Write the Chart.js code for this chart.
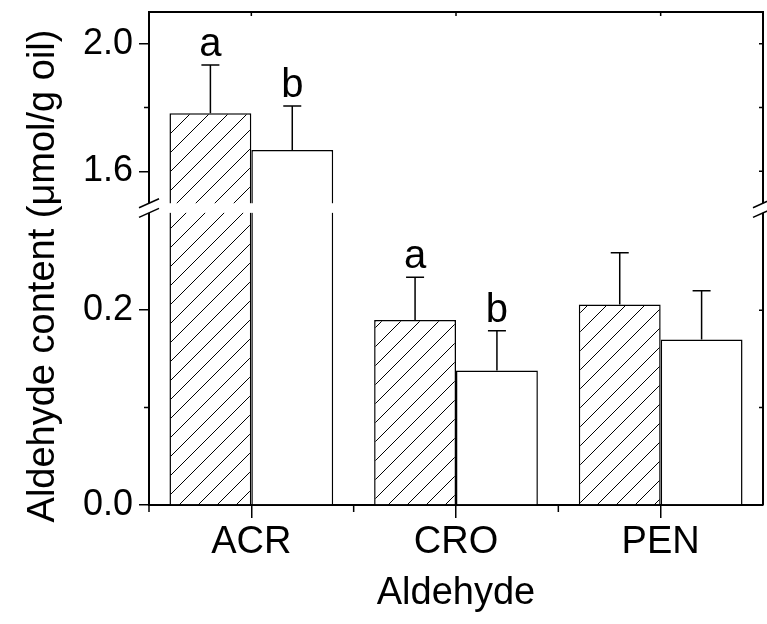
<!DOCTYPE html>
<html>
<head>
<meta charset="utf-8">
<script src="https://cdn.jsdelivr.net/npm/chart.js@4/dist/chart.umd.min.js"></script>
<style>
html, body { margin: 0; padding: 0; background: #fff; }
#wrap { width: 767px; height: 624px; }
</style>
</head>
<body>
<div id="wrap"><canvas id="canvas" width="767" height="624"></canvas></div>
<script>
// values
const aldehydes = ['ACR', 'CRO', 'PEN'];
const hatchedValues = [1.782, 0.190, 0.206];
const hatchedErrors = [0.152, 0.044, 0.053];
const openValues = [1.667, 0.138, 0.170];
const openErrors = [0.138, 0.041, 0.050];
const hatchedLetters = ['a', 'a', ''];
const openLetters = ['b', 'b', ''];
const upperTicks = [1.6, 1.8, 2.0];
const lowerTicks = [0.0, 0.1, 0.2];
const labelledTicks = [0.0, 0.2, 1.6, 2.0];

// broken y axis: 0 - 0.3 under the gap, 1.5 - 2.1 over it
const breakLow = 0.3;
const breakHigh = 1.5;
const lowMax = 0.305;
const highMin = 1.485;
const highMax = 2.1;

const FONT = "'Liberation Sans', Arial, sans-serif";

function lowPart(vals) {
    return vals.map(v => [0, Math.min(v, lowMax)]);
}
function highPart(vals) {
    return vals.map(v => v > breakHigh ? [highMin, v] : null);
}

function hatch() {
    const s = 19;
    const c = document.createElement('canvas');
    c.width = s; c.height = s;
    const g = c.getContext('2d');
    g.fillStyle = '#fff';
    g.fillRect(0, 0, s, s);
    g.strokeStyle = '#000';
    g.lineWidth = 1;
    g.beginPath();
    g.moveTo(0, s); g.lineTo(s, 0);
    g.moveTo(-2, 2); g.lineTo(2, -2);
    g.moveTo(s - 2, s + 2); g.lineTo(s + 2, s - 2);
    g.stroke();
    return g.createPattern(c, 'repeat');
}
const hatchFill = hatch();

const isMinor = v => !labelledTicks.includes(Math.round(v * 10) / 10);

// frame, axis break, error bars, letters
const decor = {
    id: 'decor',
    afterDatasetsDraw(chart) {
        const {ctx, chartArea: a, scales} = chart;
        const yH = scales.yHigh, yL = scales.yLow, x = scales.x;
        ctx.save();
        ctx.strokeStyle = '#000';
        ctx.lineWidth = 2;
        ctx.beginPath();
        ctx.moveTo(a.left, a.top);
        ctx.lineTo(a.right, a.top);
        ctx.lineTo(a.right, a.bottom);
        ctx.stroke();

        ctx.lineWidth = 1.5;
        ctx.beginPath();
        upperTicks.forEach(v => {
            const y = yH.getPixelForValue(v);
            ctx.moveTo(a.right, y); ctx.lineTo(a.right - 4, y);
            if (isMinor(v)) { ctx.moveTo(a.left, y); ctx.lineTo(a.left - 5, y); }
        });
        lowerTicks.forEach(v => {
            const y = yL.getPixelForValue(v);
            if (v > 0) { ctx.moveTo(a.right, y); ctx.lineTo(a.right - 4, y); }
            if (isMinor(v)) { ctx.moveTo(a.left, y); ctx.lineTo(a.left - 5, y); }
        });
        const half = (x.getPixelForValue(1) - x.getPixelForValue(0)) / 2;
        aldehydes.forEach((c, i) => {
            const px = x.getPixelForValue(i);
            ctx.moveTo(px, a.top); ctx.lineTo(px, a.top + 4);
            ctx.moveTo(px - half, a.bottom); ctx.lineTo(px - half, a.bottom + 7);
        });
        ctx.stroke();

        // gap of the broken axis
        const gTop = yH.getPixelForValue(breakHigh);
        const gBot = yL.getPixelForValue(breakLow);
        ctx.fillStyle = '#fff';
        ctx.fillRect(a.left - 2, gTop, a.right - a.left + 5, gBot - gTop);
        ctx.beginPath();
        [a.left, a.right].forEach(px => {
            ctx.moveTo(px - 10, gTop + 4.5); ctx.lineTo(px + 10, gTop - 4.5);
            ctx.moveTo(px - 10, gBot + 4.5); ctx.lineTo(px + 10, gBot - 4.5);
        });
        ctx.stroke();

        // error bars and letters
        ctx.fillStyle = '#000';
        ctx.font = '40px ' + FONT;
        ctx.textAlign = 'center';
        ctx.textBaseline = 'alphabetic';
        const series = [
            [hatchedValues, hatchedErrors, hatchedLetters, 0, 2],
            [openValues, openErrors, openLetters, 1, 3]
        ];
        series.forEach(([vals, errs, letters, lowIdx, highIdx]) => {
            vals.forEach((v, i) => {
                const hi = v > breakHigh;
                const sc = hi ? yH : yL;
                const bx = chart.getDatasetMeta(hi ? highIdx : lowIdx).data[i].x;
                const y0 = sc.getPixelForValue(v);
                const y1 = sc.getPixelForValue(v + errs[i]);
                ctx.beginPath();
                ctx.moveTo(bx, y0); ctx.lineTo(bx, y1);
                ctx.moveTo(bx - 9, y1); ctx.lineTo(bx + 9, y1);
                ctx.stroke();
                if (letters[i]) ctx.fillText(letters[i], bx, y1 - 9);
            });
        });

        // y title
        ctx.translate(44, 276);
        ctx.rotate(-Math.PI / 2);
        ctx.textBaseline = 'middle';
        ctx.font = '38px ' + FONT;
        ctx.fillText('Aldehyde content (\u03bcmol/g oil)', 0, 0);
        ctx.restore();
    }
};

const barStyle = {
    borderColor: '#000',
    borderWidth: 1.5,
    categoryPercentage: 0.8,
    barPercentage: 1.0
};

function yAxis(min, max, weight, tickList) {
    return {
        type: 'linear',
        position: 'left',
        stack: 'y',
        stackWeight: weight,
        stacked: false,
        min: min,
        max: max,
        afterBuildTicks: s => { s.ticks = tickList.map(v => ({ value: v })); },
        afterFit: s => { s.width = 149; s.paddingTop = 0; s.paddingBottom = 0; },
        ticks: {
            color: '#000',
            padding: 6,
            font: { family: FONT, size: 36 },
            callback: v => isMinor(v) ? '' : v.toFixed(1)
        },
        grid: {
            drawOnChartArea: false,
            tickLength: 10,
            lineWidth: 1.5,
            color: c => (c.tick && isMinor(c.tick.value)) ? 'rgba(0,0,0,0)' : '#000'
        },
        border: { color: '#000', width: 2 }
    };
}

const ctx = document.getElementById('canvas').getContext('2d');
const myChart = new Chart(ctx, {
    type: 'bar',
    data: {
        labels: aldehydes,
        datasets: [
            Object.assign({ label: 'hatched', data: lowPart(hatchedValues), yAxisID: 'yLow', stack: 'hatched', backgroundColor: hatchFill }, barStyle),
            Object.assign({ label: 'open', data: lowPart(openValues), yAxisID: 'yLow', stack: 'open', backgroundColor: '#fff' }, barStyle),
            Object.assign({ label: 'hatched high', data: highPart(hatchedValues), yAxisID: 'yHigh', stack: 'hatched', backgroundColor: hatchFill }, barStyle),
            Object.assign({ label: 'open high', data: highPart(openValues), yAxisID: 'yHigh', stack: 'open', backgroundColor: '#fff' }, barStyle)
        ]
    },
    options: {
        responsive: false,
        animation: false,
        layout: { padding: { top: 12, right: 4, left: 0, bottom: 0 } },
        plugins: { legend: { display: false }, tooltip: { enabled: false } },
        scales: {
            x: {
                type: 'category',
                offset: true,
                afterFit: s => { s.height = 119; s.paddingLeft = 0; s.paddingRight = 0; },
                grid: { offset: false, drawOnChartArea: false, tickLength: 13, color: '#000', lineWidth: 1.5 },
                border: { color: '#000', width: 2 },
                ticks: { color: '#000', padding: 2, font: { family: FONT, size: 38 } },
                title: { display: true, text: 'Aldehyde', color: '#000', font: { family: FONT, size: 38 }, padding: { top: 0, bottom: 8 } }
            },
            // left boxes are laid out in reverse, so the lower segment comes first
            yLow: yAxis(0, lowMax, 297, lowerTicks),
            yHigh: yAxis(highMin, highMax, 196, upperTicks)
        }
    },
    plugins: [decor]
});
</script>
</body>
</html>
